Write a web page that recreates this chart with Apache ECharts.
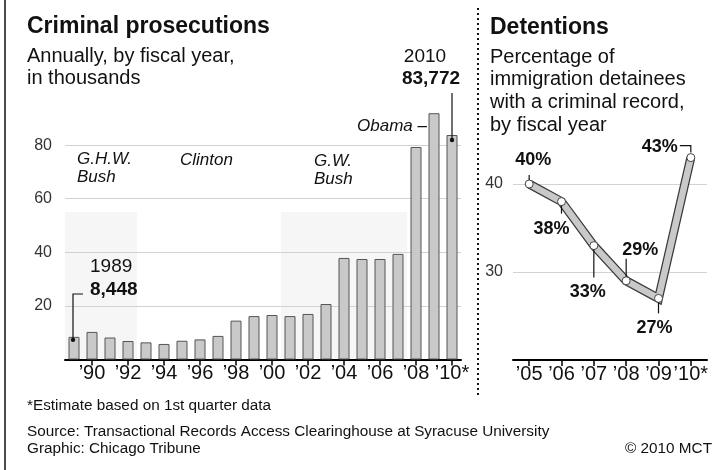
<!DOCTYPE html>
<html><head><meta charset="utf-8">
<script src="https://cdn.jsdelivr.net/npm/echarts@6/dist/echarts.min.js"></script>
<style>html,body{margin:0;padding:0;background:#fff}#c{width:716px;height:470px}</style>
</head><body><div id="c"></div>
<script>
// ---- data ----
const years = ['1989','1990','1991','1992','1993','1994','1995','1996','1997','1998','1999','2000','2001','2002','2003','2004','2005','2006','2007','2008','2009','2010'];
const prosecutions = [8.448, 10.3, 8.2, 6.9, 6.4, 5.8, 7.0, 7.5, 8.8, 14.5, 16.2, 16.6, 16.2, 17.0, 20.7, 37.9, 37.5, 37.5, 39.4, 79.3, 91.9, 83.772];
const detYears = ['2005','2006','2007','2008','2009','2010'];
const detentions = [40, 38, 33, 29, 27, 43];
const leftTicks = [20, 40, 60, 80];
const rightTicks = [30, 40];
const eras = [
  {name: ['G.H.W.', 'Bush'], from: '1989', to: '1992', shade: true},
  {name: ['Clinton'], from: '1993', to: '2000', shade: false},
  {name: ['G.W.', 'Bush'], from: '2001', to: '2007', shade: true}
];

const FONT = '"Liberation Sans", Arial, sans-serif';
const yr = (y) => '\u2019' + y.slice(2) + (y === '2010' ? '*' : '');

const chart = echarts.init(document.getElementById('c'), null, {renderer: 'canvas'});

const option = {
  animation: false,
  backgroundColor: '#fff',
  grid: [
    {left: 65, right: 255, top: 91.5, bottom: 110.5},
    {left: 513, right: 9, top: 140, bottom: 110}
  ],
  xAxis: [
    {
      gridIndex: 0, type: 'category', data: years, boundaryGap: true,
      axisLine: {lineStyle: {color: '#000', width: 2}},
      axisTick: {show: true, alignWithLabel: true, interval: (i) => i % 2 === 1, length: 6, lineStyle: {color: '#000', width: 1.5}},
      axisLabel: {interval: (i) => i % 2 === 1, formatter: yr, margin: 4, fontFamily: FONT, fontSize: 20, color: '#111'}
    },
    {
      gridIndex: 1, type: 'category', data: detYears, boundaryGap: true,
      axisLine: {lineStyle: {color: '#000', width: 2}},
      axisTick: {show: true, alignWithLabel: true, length: 6, lineStyle: {color: '#000', width: 1.5}},
      axisLabel: {interval: 0, formatter: yr, margin: 4, fontFamily: FONT, fontSize: 20, color: '#111'}
    }
  ],
  yAxis: [
    {
      gridIndex: 0, type: 'value', min: 0, max: 100, interval: 20,
      axisLine: {show: false}, axisTick: {show: false},
      axisLabel: {margin: 13, fontFamily: FONT, fontSize: 16, color: '#333',
        formatter: (v) => leftTicks.indexOf(v) >= 0 ? String(v) : ''},
      splitLine: {show: true, showMinLine: false, showMaxLine: false, lineStyle: {color: '#d2d2d2', width: 1}}
    },
    {
      gridIndex: 1, type: 'value', min: 20, max: 45, interval: 10,
      axisLine: {show: false}, axisTick: {show: false},
      axisLabel: {margin: 10, fontFamily: FONT, fontSize: 16, color: '#333',
        formatter: (v) => rightTicks.indexOf(v) >= 0 ? String(v) : ''},
      splitLine: {show: true, showMinLine: false, showMaxLine: false, lineStyle: {color: '#d2d2d2', width: 1}}
    }
  ],
  series: [
    {
      type: 'bar', xAxisIndex: 0, yAxisIndex: 0, data: prosecutions, barWidth: 11,
      itemStyle: {color: '#c9c9c9', borderColor: '#555', borderWidth: 1}, z: 3
    },
    {
      type: 'line', xAxisIndex: 1, yAxisIndex: 1, data: detentions, symbol: 'none',
      lineStyle: {color: '#3a3a3a', width: 9, cap: 'butt', join: 'miter'}, z: 3
    },
    {
      type: 'line', xAxisIndex: 1, yAxisIndex: 1, data: detentions, symbol: 'circle', symbolSize: 8,
      itemStyle: {color: '#fff', borderColor: '#444', borderWidth: 1},
      lineStyle: {color: '#c9c9c9', width: 6.5, cap: 'butt', join: 'miter'}, z: 4
    }
  ]
};
chart.setOption(option);

// ---- annotations computed from the axes ----
const p0 = (cat, v) => chart.convertToPixel({seriesIndex: 0}, [cat, v]);
const p1 = (cat, v) => chart.convertToPixel({seriesIndex: 1}, [cat, v]);
const band = p0(years[1], 0)[0] - p0(years[0], 0)[0];

const g = [];
const txt = (text, x, y, font, align, extra) => g.push(Object.assign({
  type: 'text', z: 50,
  style: {text: text, x: x, y: y, font: font, fill: '#111', align: align || 'left', verticalAlign: 'middle',
    textAlign: align || 'left', textVerticalAlign: 'middle'}
}, extra || {}));
const line = (pts, w, dash, col) => g.push({
  type: 'polyline', z: 50, shape: {points: pts},
  style: {stroke: col || '#111', lineWidth: w || 1, fill: null, lineDash: dash || null}
});

// frame & separator
line([[5, 0], [5, 470]], 1.5);
line([[478, 8], [478, 396]], 2, [2, 3]);

// era shading
eras.forEach((e) => {
  const a = p0(e.from, 0), b = p0(e.to, 55);
  if (e.shade) {
    g.push({type: 'rect', z: -1, silent: true,
      shape: {x: a[0] - band / 2, y: b[1], width: b[0] - a[0] + band, height: a[1] - b[1]},
      style: {fill: '#f6f6f6'}});
  }
});
txt('G.H.W.', 77, 159, 'italic 17px ' + FONT);
txt('Bush', 77, 177, 'italic 17px ' + FONT);
txt('Clinton', 180, 160, 'italic 17px ' + FONT);
txt('G.W.', 314, 161, 'italic 17px ' + FONT);
txt('Bush', 314, 179, 'italic 17px ' + FONT);
txt('Obama \u2013', 427, 126, 'italic 17px ' + FONT, 'right');

// 1989 callout
const c89 = p0('1989', prosecutions[0]);
line([[c89[0] - 1, c89[1] + 3], [c89[0] - 1, 294], [c89[0] + 9, 294]], 1.2);
g.push({type: 'circle', z: 51, shape: {cx: c89[0] - 1, cy: c89[1] + 3, r: 2.2}, style: {fill: '#111'}});
txt('1989', 90, 267, '19px ' + FONT);
txt('8,448', 90, 290, 'bold 19px ' + FONT);

// 2010 callout
const c10 = p0('2010', prosecutions[21]);
line([[c10[0], c10[1] + 5], [c10[0], 93]], 1.2);
g.push({type: 'circle', z: 51, shape: {cx: c10[0], cy: c10[1] + 5, r: 2.2}, style: {fill: '#111'}});
txt('2010', 425, 57, '19px ' + FONT, 'center');
txt('83,772', 431, 79, 'bold 19px ' + FONT, 'center');

// titles
txt('Criminal prosecutions', 27, 27, 'bold 23px ' + FONT);
txt('Annually, by fiscal year,', 27, 56.5, '20px ' + FONT);
txt('in thousands', 27, 78, '20px ' + FONT);
txt('Detentions', 490, 28, 'bold 23px ' + FONT);
['Percentage of', 'immigration detainees', 'with a criminal record,', 'by fiscal year'].forEach((s, i) =>
  txt(s, 490, 57 + i * 22.8, '20px ' + FONT));

// detention point labels
const labelPos = [
  {dx: 4, dy: -24, l: [-9, -4]},
  {dx: -10, dy: 27, l: [4, 12]},
  {dx: -6, dy: 46, l: [4, 32]},
  {dx: 14, dy: -31, l: [-4, -22]},
  {dx: -4, dy: 30, l: [4, 15]},
  {dx: -31, dy: -10.5, l: null}
];
detentions.forEach((v, i) => {
  const p = p1(detYears[i], v);
  const lp = labelPos[i];
  txt(v + '%', p[0] + lp.dx, p[1] + lp.dy, 'bold 18px ' + FONT, 'center');
  if (lp.l) line([[p[0], p[1] + lp.l[0]], [p[0], p[1] + lp.l[1]]], 1.2);
  else line([[p[0] - 11, p[1] - 12], [p[0], p[1] - 12], [p[0], p[1] - 5]], 1.2);
});

// footer
txt('*Estimate based on 1st quarter data', 27, 406, '15.3px ' + FONT);
txt('Source: Transactional Records Access Clearinghouse at Syracuse University', 27, 432, '15.3px ' + FONT);
txt('Graphic: Chicago Tribune', 27, 449, '15.3px ' + FONT);
txt('\u00a9 2010 MCT', 712, 449, '15.3px ' + FONT, 'right');

chart.setOption({graphic: g});
</script></body></html>
